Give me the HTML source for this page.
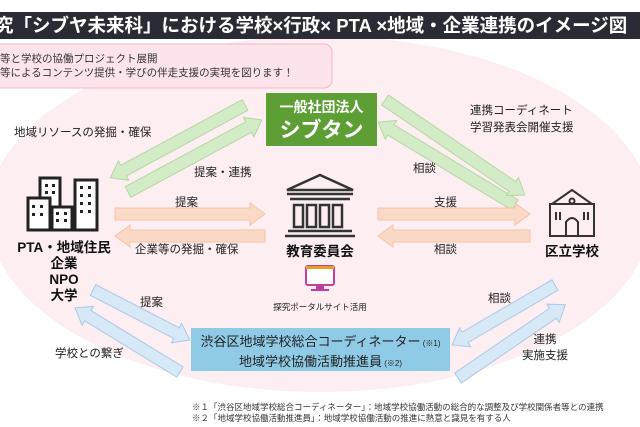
<!DOCTYPE html>
<html><head><meta charset="utf-8"><style>
html,body{margin:0;padding:0;background:#fff;}
body{width:640px;height:427px;overflow:hidden;position:relative;font-family:"Liberation Sans","Noto Sans CJK JP",sans-serif;}
.t{position:absolute;white-space:nowrap;color:#222;}
</style></head><body>
<svg width="640" height="427" style="position:absolute;left:0;top:0" font-family="Liberation Sans, Noto Sans CJK JP, sans-serif">
<defs>
<g id="ar"><polygon points="0,-6 L,-6" /></g>
</defs>
<ellipse cx="320" cy="214" rx="332" ry="178" fill="#fdeef2"/>
<!-- title -->
<rect x="0" y="12" width="640" height="27" fill="#2b2b36"/>
<!-- pink note -->
<rect x="-10" y="44" width="342" height="44" rx="8" fill="#fde4ec" stroke="#f2b8c8" stroke-width="1"/>
<!-- green box -->
<rect x="266" y="93" width="111" height="53" fill="#5e9f35"/>
<rect x="191" y="328" width="259" height="43" fill="#8fcbe6"/>
<!-- green arrows -->
<g fill="#d3ebc6" stroke="#b3d9a0" stroke-width="1">
<g transform="translate(245,105) rotate(151.6)"><polygon points="0,-6 138,-6 138,-11 153,0 138,11 138,6 0,6"/></g>
<g transform="translate(128,192) rotate(-28.3)"><polygon points="0,-6 137,-6 137,-11 152,0 137,11 137,6 0,6"/></g>
<g transform="translate(515,205) rotate(211.2)"><polygon points="0,-6 145,-6 145,-11 160,0 145,11 145,6 0,6"/></g>
<g transform="translate(385,100) rotate(34.2)"><polygon points="0,-6 154,-6 154,-11 169,0 154,11 154,6 0,6"/></g>
</g>
<g fill="#fbd9c7" stroke="#f5c2a8" stroke-width="1">
<g transform="translate(115,214)"><polygon points="0,-6 135,-6 135,-11 150,0 135,11 135,6 0,6"/></g>
<g transform="translate(265,236) rotate(180)"><polygon points="0,-6 135,-6 135,-11 150,0 135,11 135,6 0,6"/></g>
<g transform="translate(378,214)"><polygon points="0,-6 137,-6 137,-11 152,0 137,11 137,6 0,6"/></g>
<g transform="translate(530,236) rotate(180)"><polygon points="0,-6 137,-6 137,-11 152,0 137,11 137,6 0,6"/></g>
</g>
<g fill="#d7e8f6" stroke="#a9c9e6" stroke-width="1">
<g transform="translate(93,290) rotate(27.3)"><polygon points="0,-6 94,-6 94,-11 109,0 94,11 94,6 0,6"/></g>
<g transform="translate(180,372) rotate(211.4)"><polygon points="0,-6 108,-6 108,-11 123,0 108,11 108,6 0,6"/></g>
<g transform="translate(555,285) rotate(149.8)"><polygon points="0,-6 104,-6 104,-11 119,0 104,11 104,6 0,6"/></g>
<g transform="translate(458,378) rotate(-34.3)"><polygon points="0,-6 115,-6 115,-11 130,0 115,11 115,6 0,6"/></g>
</g>
<!-- left buildings icon -->
<g fill="#fff" stroke="#222" stroke-width="3">
<rect x="40" y="178" width="20" height="52"/>
<rect x="28" y="198" width="22" height="32"/>
<rect x="52" y="207" width="20" height="23"/>
<rect x="75" y="180" width="22" height="50"/>
</g>
<g fill="#222">
<rect x="45" y="184" width="3" height="3"/><rect x="52" y="184" width="3" height="3"/><rect x="45" y="191" width="3" height="3"/><rect x="52" y="191" width="3" height="3"/>
<rect x="32" y="205" width="3" height="3"/><rect x="40" y="205" width="3" height="3"/><rect x="32" y="213" width="3" height="3"/><rect x="40" y="213" width="3" height="3"/>
<rect x="56" y="212" width="3" height="3"/><rect x="64" y="212" width="3" height="3"/><rect x="56" y="219" width="3" height="3"/><rect x="64" y="219" width="3" height="3"/>
<rect x="80" y="186" width="3" height="3"/><rect x="88" y="186" width="3" height="3"/><rect x="80" y="194" width="3" height="3"/><rect x="88" y="194" width="3" height="3"/><rect x="80" y="202" width="3" height="3"/><rect x="88" y="202" width="3" height="3"/><rect x="80" y="210" width="3" height="3"/><rect x="88" y="210" width="3" height="3"/>
</g>
<!-- center building -->
<g fill="none" stroke="#333" stroke-width="2.5">
<polygon points="287,190 320,175 353,190"/>
<line x1="287" y1="194" x2="353" y2="194"/>
<line x1="290" y1="199" x2="350" y2="199"/>
<rect x="294" y="205" width="9" height="22"/><rect x="307" y="205" width="9" height="22"/><rect x="320" y="205" width="9" height="22"/><rect x="333" y="205" width="9" height="22"/>
<line x1="288" y1="231" x2="352" y2="231"/>
<line x1="285" y1="236" x2="355" y2="236"/>
</g>
<!-- school -->
<g fill="none" stroke="#333" stroke-width="2">
<polygon points="552,204 572,190 592,204"/>
<rect x="550" y="204" width="44" height="32"/>
<circle cx="572" cy="201" r="2.5"/>
<path d="M566 236 V222 Q572 214 578 222 V236"/>
<line x1="556" y1="212" x2="556" y2="220"/><line x1="560" y1="212" x2="560" y2="220"/><line x1="584" y1="212" x2="584" y2="220"/><line x1="588" y1="212" x2="588" y2="220"/>
</g>
<!-- portal icon -->
<rect x="306" y="266" width="28" height="19" rx="2" fill="#fff" stroke="#c040a0" stroke-width="2"/>
<rect x="316" y="285" width="8" height="4" fill="#c040a0"/>
<rect x="311" y="289" width="18" height="2" fill="#c040a0"/>
<rect x="306" y="266" width="28" height="3" fill="#e8a020"/>
</svg>
<div class="t" style="left:-5px;top:12px;height:27px;line-height:27px;color:#fff;font-weight:bold;font-size:18.5px;">究「シブヤ未来科」における学校×行政× PTA ×地域・企業連携のイメージ図</div>
<div class="t" style="left:0;top:52px;font-size:10.5px;line-height:14px;color:#333">等と学校の協働プロジェクト展開<br>等によるコンテンツ提供・学びの伴走支援の実現を図ります！</div>
<div class="t" style="left:266px;top:97px;width:111px;text-align:center;color:#fff;font-weight:bold;font-size:14px;">一般社団法人</div>
<div class="t" style="left:266px;top:114px;width:111px;text-align:center;color:#fff;font-weight:bold;font-size:21px;">シブタン</div>
<div class="t" style="left:14px;top:124px;font-size:11.5px;">地域リソースの発掘・確保</div>
<div class="t" style="left:194px;top:164px;font-size:11.5px;">提案・連携</div>
<div class="t" style="left:470px;top:103px;font-size:11.5px;line-height:17px;">連携コーディネート<br>学習発表会開催支援</div>
<div class="t" style="left:413px;top:160px;font-size:11.5px;">相談</div>
<div class="t" style="left:175px;top:194px;font-size:11.5px;">提案</div>
<div class="t" style="left:135px;top:241px;font-size:11.5px;">企業等の発掘・確保</div>
<div class="t" style="left:434px;top:194px;font-size:11.5px;">支援</div>
<div class="t" style="left:434px;top:241px;font-size:11.5px;">相談</div>
<div class="t" style="left:8px;top:240px;width:112px;text-align:center;font-weight:bold;font-size:13.5px;line-height:16px;color:#111">PTA・地域住民<br>企業<br>NPO<br>大学</div>
<div class="t" style="left:280px;top:240px;width:80px;text-align:center;font-weight:bold;font-size:13.5px;color:#111">教育委員会</div>
<div class="t" style="left:540px;top:240px;width:64px;text-align:center;font-weight:bold;font-size:13.5px;color:#111">区立学校</div>
<div class="t" style="left:260px;top:301px;width:120px;text-align:center;font-size:8.5px;">探究ポータルサイト活用</div>
<div class="t" style="left:140px;top:294px;font-size:11.5px;">提案</div>
<div class="t" style="left:55px;top:345px;font-size:11.5px;">学校との繋ぎ</div>
<div class="t" style="left:488px;top:290px;font-size:11.5px;">相談</div>
<div class="t" style="left:520px;top:332px;width:50px;text-align:center;font-size:11.5px;line-height:16px;">連携<br>実施支援</div>
<div class="t" style="left:191px;top:333px;width:259px;text-align:center;font-size:13px;line-height:18px;color:#222">渋谷区地域学校総合コーディネーター<span style="font-size:8px"> (※1)</span><br>地域学校協働活動推進員<span style="font-size:8px"> (※2)</span></div>
<div class="t" style="left:192px;top:402px;font-size:8.5px;line-height:10.5px;color:#333">※１「渋谷区地域学校総合コーディネーター」：地域学校協働活動の総合的な調整及び学校関係者等との連携<br>※２「地域学校協働活動推進員」：地域学校協働活動の推進に熱意と識見を有する人</div>
</body></html>
